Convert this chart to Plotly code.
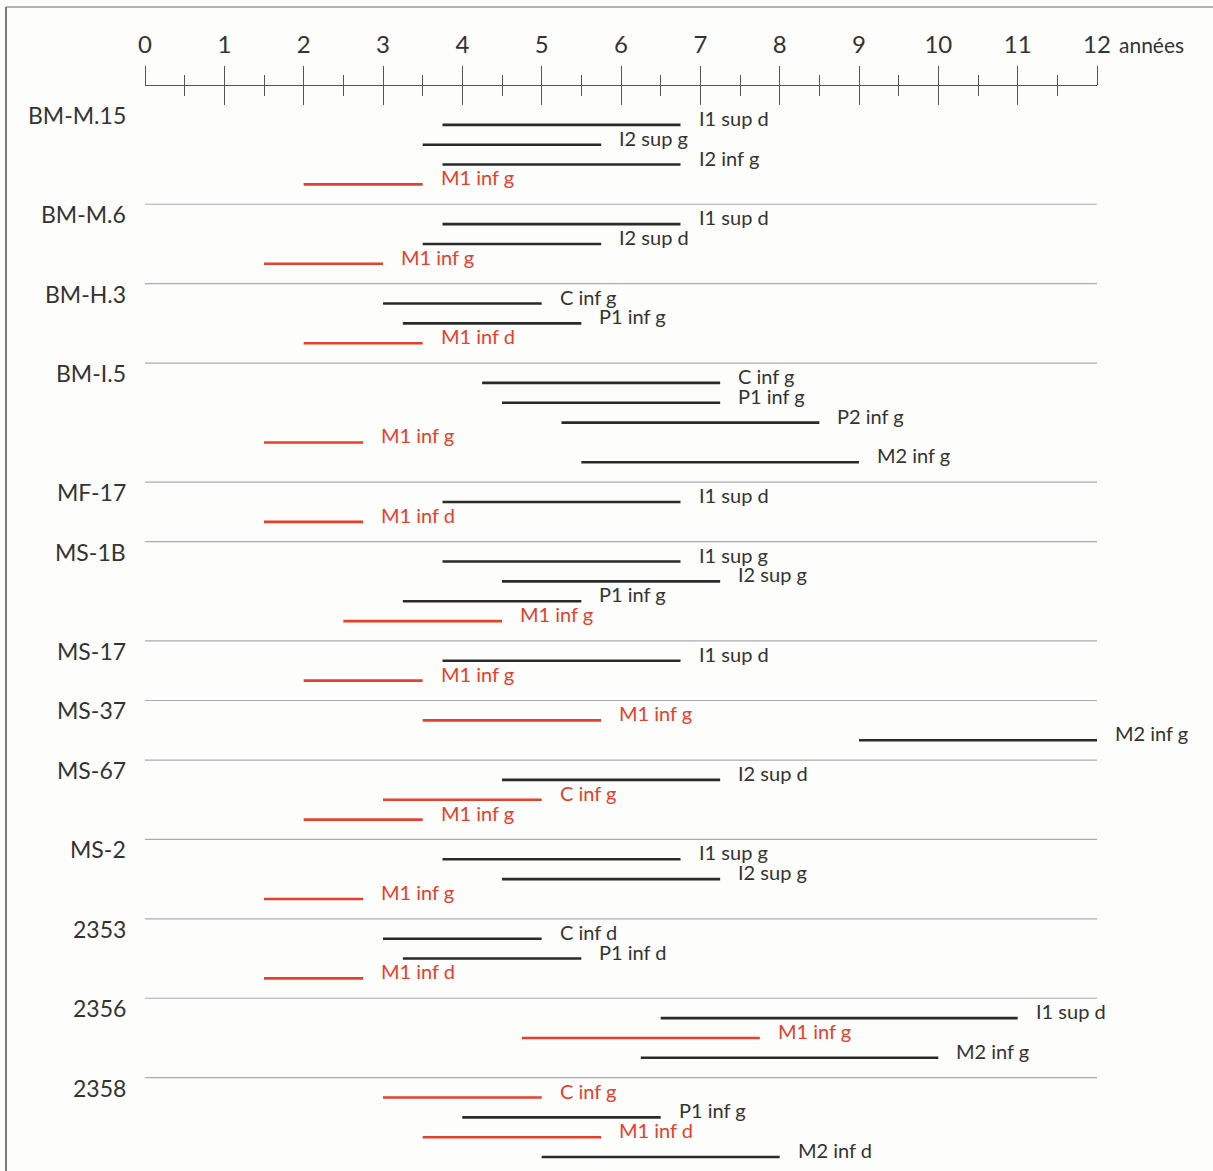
import plotly.graph_objects as go

# ---------------- data ----------------
specimens = ["BM-M.15", "BM-M.6", "BM-H.3", "BM-I.5", "MF-17", "MS-1B", "MS-17",
             "MS-37", "MS-67", "MS-2", "2353", "2356", "2358"]

teeth = [
    ["I1 sup d", "I2 sup g", "I2 inf g", "M1 inf g"],
    ["I1 sup d", "I2 sup d", "M1 inf g"],
    ["C inf g", "P1 inf g", "M1 inf d"],
    ["C inf g", "P1 inf g", "P2 inf g", "M1 inf g", "M2 inf g"],
    ["I1 sup d", "M1 inf d"],
    ["I1 sup g", "I2 sup g", "P1 inf g", "M1 inf g"],
    ["I1 sup d", "M1 inf g"],
    ["M1 inf g", "M2 inf g"],
    ["I2 sup d", "C inf g", "M1 inf g"],
    ["I1 sup g", "I2 sup g", "M1 inf g"],
    ["C inf d", "P1 inf d", "M1 inf d"],
    ["I1 sup d", "M1 inf g", "M2 inf g"],
    ["C inf g", "P1 inf g", "M1 inf d", "M2 inf d"],
]

age_min = [
    [3.75, 3.5, 3.75, 2.0],
    [3.75, 3.5, 1.5],
    [3.0, 3.25, 2.0],
    [4.25, 4.5, 5.25, 1.5, 5.5],
    [3.75, 1.5],
    [3.75, 4.5, 3.25, 2.5],
    [3.75, 2.0],
    [3.5, 9.0],
    [4.5, 3.0, 2.0],
    [3.75, 4.5, 1.5],
    [3.0, 3.25, 1.5],
    [6.5, 4.75, 6.25],
    [3.0, 4.0, 3.5, 5.0],
]

age_max = [
    [6.75, 5.75, 6.75, 3.5],
    [6.75, 5.75, 3.0],
    [5.0, 5.5, 3.5],
    [7.25, 7.25, 8.5, 2.75, 9.0],
    [6.75, 2.75],
    [6.75, 7.25, 5.5, 4.5],
    [6.75, 3.5],
    [5.75, 12.0],
    [7.25, 5.0, 3.5],
    [6.75, 7.25, 2.75],
    [5.0, 5.5, 2.75],
    [11.0, 7.75, 10.0],
    [5.0, 6.5, 5.75, 8.0],
]

# 1 = highlighted (red) tooth
highlight = [
    [0, 0, 0, 1],
    [0, 0, 1],
    [0, 0, 1],
    [0, 0, 0, 1, 0],
    [0, 1],
    [0, 0, 0, 1],
    [0, 1],
    [1, 0],
    [0, 1, 1],
    [0, 0, 1],
    [0, 0, 1],
    [0, 1, 0],
    [1, 0, 1, 0],
]

major_ticks = list(range(0, 13))
major_labels = [str(v) for v in major_ticks]
minor_ticks = [0.5, 1.5, 2.5, 3.5, 4.5, 5.5, 6.5, 7.5, 8.5, 9.5, 10.5, 11.5]
unit_label = "années"

# ---------------- style ----------------
FONT = "Lato"
BLACK = "#2a2a2a"
RED = "#e4402c"
SEP = "#a9abb2"
AXIS = "#555555"
BG = "#fdfdfb"
TXT = "#333333"

W, H = 1213, 1171
ML, MR, MT, MB = 145, 116, 86, 6
SLOT_PX = 19.85
y_top = -(105 - 86) / SLOT_PX
y_bot = y_top + (H - MT - MB) / SLOT_PX

fig = go.Figure()

# compute slots
sep_slots = []
s = 0
for t in teeth:
    sep_slots.append(s)
    s += len(t) + 1

# separators (not for the first group)
sx, sy = [], []
for i, ss in enumerate(sep_slots):
    if i == 0:
        continue
    sx += [0, 12, None]
    sy += [ss, ss, None]
fig.add_trace(go.Scatter(x=sx, y=sy, mode="lines", line=dict(color=SEP, width=1.2),
                         hoverinfo="skip", showlegend=False, cliponaxis=False))

annotations = []
bx = {0: [], 1: []}
by = {0: [], 1: []}
for i, name in enumerate(specimens):
    ss = sep_slots[i]
    annotations.append(dict(x=0, xref="paper", y=ss + 0.55, yref="y", text=name,
                            showarrow=False, xanchor="right", yanchor="middle",
                            xshift=-17, yshift=1,
                            font=dict(family=FONT, size=23, color=TXT)))
    for k, tooth in enumerate(teeth[i]):
        yk = ss + k + 1
        h = highlight[i][k]
        bx[h] += [age_min[i][k], age_max[i][k], None]
        by[h] += [yk, yk, None]
        annotations.append(dict(x=age_max[i][k], xref="x", y=yk, yref="y", text=tooth,
                                showarrow=False, xanchor="left", yanchor="middle",
                                xshift=16, yshift=7,
                                font=dict(family=FONT, size=20,
                                          color=RED if h else TXT)))

fig.add_trace(go.Scatter(x=bx[0], y=by[0], mode="lines", line=dict(color=BLACK, width=2.6),
                         hoverinfo="skip", showlegend=False, cliponaxis=False))
fig.add_trace(go.Scatter(x=bx[1], y=by[1], mode="lines", line=dict(color=RED, width=2.6),
                         hoverinfo="skip", showlegend=False, cliponaxis=False))
# invisible trace to make the second (downward-tick) axis live
fig.add_trace(go.Scatter(x=[0, 12], y=[0, 0], xaxis="x2", mode="markers",
                         marker=dict(opacity=0), hoverinfo="skip", showlegend=False))

annotations.append(dict(x=12, xref="x", y=1, yref="paper", yanchor="bottom", xanchor="left",
                        text=unit_label, showarrow=False, xshift=20, yshift=27,
                        font=dict(family=FONT, size=21, color=TXT)))

tick_common = dict(tickwidth=1.2, tickcolor=AXIS, showgrid=False, zeroline=False)
fig.update_layout(
    width=W, height=H,
    margin=dict(l=ML, r=MR, t=MT, b=MB),
    paper_bgcolor=BG, plot_bgcolor=BG,
    showlegend=False,
    xaxis=dict(range=[0, 12], side="top", anchor="y", showline=True, linecolor=AXIS,
               linewidth=1.2, ticks="outside", ticklen=19, tickvals=major_ticks,
               ticktext=major_labels, tickfont=dict(family=FONT, size=24, color=TXT),
               ticklabelstandoff=3,
               minor=dict(tickvals=minor_ticks, ticks="outside", ticklen=10,
                          tickwidth=1.2, tickcolor=AXIS, showgrid=False),
               **tick_common),
    xaxis2=dict(range=[0, 12], overlaying="x", matches="x", side="top", anchor="y",
                showline=False, ticks="inside", ticklen=19, tickvals=major_ticks,
                showticklabels=False,
                minor=dict(tickvals=minor_ticks, ticks="inside", ticklen=10,
                           tickwidth=1.2, tickcolor=AXIS, showgrid=False),
                **tick_common),
    yaxis=dict(range=[y_bot, y_top], visible=False, showgrid=False, zeroline=False),
    annotations=annotations,
    shapes=[
        dict(type="line", xref="paper", yref="paper",
             x0=(6 - ML) / (W - ML - MR), x1=(W - ML) / (W - ML - MR),
             y0=1 + (MT - 7) / (H - MT - MB), y1=1 + (MT - 7) / (H - MT - MB),
             line=dict(color="#9a9a9a", width=1.5)),
        dict(type="line", xref="paper", yref="paper",
             x0=(6 - ML) / (W - ML - MR), x1=(6 - ML) / (W - ML - MR),
             y0=1 + (MT - 7) / (H - MT - MB), y1=-MB / (H - MT - MB),
             line=dict(color="#7a7a7a", width=2)),
    ],
)

fig.write_html("out.html",
               config={"displayModeBar": False},
               post_script="document.body.style.margin='0px';"
                           "document.body.style.overflow='hidden';")
